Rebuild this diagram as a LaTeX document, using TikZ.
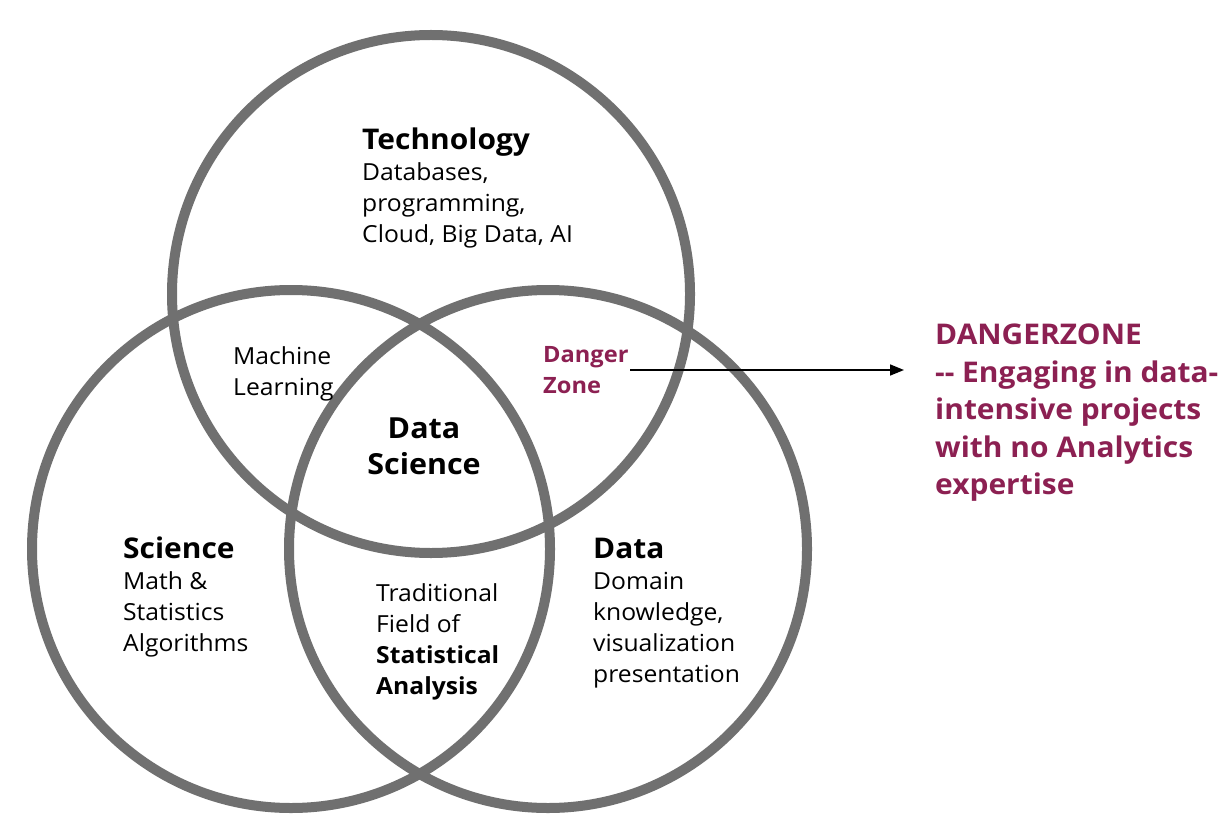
\documentclass[tikz,border=0pt]{standalone}
\usepackage{fontspec}
\setmainfont{Open Sans}[FakeStretch=1.05]
\usetikzlibrary{arrows.meta}
\definecolor{ringgray}{RGB}{112,112,112}
\definecolor{dangerred}{RGB}{140,32,82}
\newcommand{\headfont}{\bfseries\fontsize{28.5}{31}\selectfont}
\tikzset{
  ring/.style={draw=ringgray, line width=10pt},
  lbl/.style={anchor=north west, inner sep=0pt, align=left, font=\fontsize{23.5}{31}\selectfont},
  ctr/.style={anchor=north, inner sep=0pt, align=center, font=\bfseries\fontsize{29}{36}\selectfont},
  dz/.style={anchor=north west, inner sep=0pt, align=left, text=dangerred, font=\bfseries\fontsize{22.5}{31}\selectfont},
  dzbig/.style={anchor=north west, inner sep=0pt, align=left, text=dangerred, font=\bfseries\fontsize{28.5}{37.5}\selectfont},
  pointer/.style={draw=black, line width=1.6pt, -{Triangle[length=14pt,width=11pt]}}
}
\begin{document}
\begin{tikzpicture}[x=1pt,y=-1pt]
\useasboundingbox (0,0) rectangle (1230,834);
\fill[white] (0,0) rectangle (1230,834);
% circles
\draw[ring] (431,294) circle (259);
\draw[ring] (291,549) circle (259);
\draw[ring] (548,549) circle (259);
% labels
\node[lbl] (tech) at (362,128) {{\headfont Technology}\\Databases,\\programming,\\Cloud, Big Data, AI};
\node[lbl] (ml) at (233,346) {Machine\\Learning};
\node[dz] (dzone) at (543,346) {Danger\\Zone};
\node[ctr] (ds) at (424,418) {Data\\Science};
\node[lbl] (sci) at (123,537) {{\headfont Science}\\Math \&\\Statistics\\Algorithms};
\node[lbl] (stat) at (376,583) {Traditional\\Field of\\\textbf{Statistical}\\\textbf{Analysis}};
\node[lbl] (data) at (593,538) {{\headfont Data}\\Domain\\knowledge,\\visualization\\presentation};
\node[dzbig] (dztext) at (935,324) {DANGERZONE\\-{}- Engaging in data-\\intensive projects\\with no Analytics\\expertise};
% arrow
\coordinate (arrstart) at (630,370);
\coordinate (arrend) at (904,370);
\draw[pointer] (arrstart) -- (arrend);
\end{tikzpicture}
\end{document}
